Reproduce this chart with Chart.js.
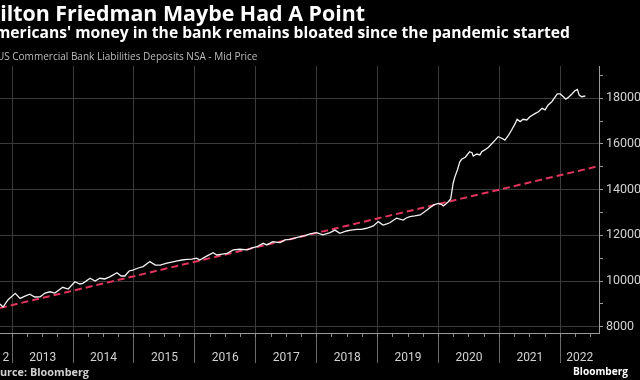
<!DOCTYPE html>
<html>
<head>
<meta charset="utf-8">
<script src="https://cdn.jsdelivr.net/npm/chart.js@4"></script>
<style>
html,body{margin:0;padding:0;background:#000;overflow:hidden;width:640px;height:380px}
#wrap{position:relative;width:640px;height:380px;overflow:hidden;background:#000}
canvas{position:absolute;left:0;top:0}
.hdr{position:absolute;left:0;top:0;white-space:nowrap;line-height:1;font-family:'Open Sans',sans-serif}
.bl{display:inline-block;width:0;height:0;vertical-align:baseline}
</style>
</head>
<body>
<div id="wrap">
<canvas id="c" width="640" height="380"></canvas>
<div class="hdr" id="h1" style="font-weight:700;color:#ffffff"><span class="cut">M</span>ilton Friedman Maybe Had A Point<i class="bl"></i></div>
<div class="hdr" id="h2" style="font-weight:700;color:#ffffff"><span class="cut">Am</span>ericans' money in the bank remains bloated since the pandemic started<i class="bl"></i></div>
<div class="hdr" id="h3" style="font-weight:400;color:#bdbdbd"><span class="cut">U</span>S Commercial Bank Liabilities Deposits NSA - Mid Price<i class="bl"></i></div>
<div class="hdr" id="src" style="font-weight:700;color:#d0d0d0"><span class="cut">So</span>urce: Bloomberg<i class="bl"></i></div>
<div class="hdr" id="logo" style="font-weight:700;color:#ffffff">Bloomberg<i class="bl"></i></div>
</div>
<script>
// ---- data ----
const yearLabels = ['2012','2013','2014','2015','2016','2017','2018','2019','2020','2021','2022'];
const yearStarts = [2013,2014,2015,2016,2017,2018,2019,2020,2021,2022];
const yTickValues = [8000,9000,10000,11000,12000,13000,14000,15000,16000,17000,18000,19000];

const dateX = [
  2012.80,2012.85,2012.93,2013.05,2013.13,2013.21,2013.29,2013.37,2013.46,2013.54,
  2013.62,2013.70,2013.83,2013.92,2014.03,2014.11,2014.16,2014.28,2014.36,2014.44,
  2014.52,2014.61,2014.72,2014.79,2014.85,2014.92,2014.98,2015.07,2015.15,2015.26,
  2015.35,2015.43,2015.54,2015.62,2015.71,2015.79,2015.87,2015.95,2016.03,2016.08,
  2016.20,2016.30,2016.36,2016.45,2016.53,2016.63,2016.74,2016.86,2016.94,2017.02,
  2017.12,2017.18,2017.28,2017.40,2017.48,2017.56,2017.64,2017.73,2017.81,2017.89,
  2018.00,2018.10,2018.22,2018.30,2018.38,2018.49,2018.56,2018.66,2018.73,2018.82,
  2018.93,2019.01,2019.09,2019.15,2019.20,2019.31,2019.42,2019.47,2019.53,2019.61,
  2019.70,2019.81,2019.92,2020.00,2020.04,2020.08,2020.12,2020.16,2020.20,2020.24,
  2020.27,2020.31,2020.35,2020.38,2020.44,2020.51,2020.55,2020.57,2020.63,2020.68,
  2020.71,2020.76,2020.82,2020.87,2020.93,2020.98,2021.04,2021.09,2021.15,2021.20,
  2021.26,2021.29,2021.34,2021.39,2021.45,2021.50,2021.59,2021.64,2021.70,2021.75,
  2021.80,2021.86,2021.91,2021.95,2022.00,2022.05,2022.09,2022.13,2022.19,2022.24,
  2022.28,2022.31,2022.35,2022.41
];
const deposits = [
  8990,8860,9170,9460,9240,9340,9420,9300,9310,9475,
  9530,9475,9725,9650,9970,9870,9900,10120,10000,10120,
  10090,10190,10360,10220,10220,10440,10480,10570,10630,10850,
  10700,10700,10780,10830,10880,10920,10950,10960,11000,10920,
  11100,11240,11140,11180,11210,11360,11390,11360,11450,11500,
  11650,11580,11720,11680,11800,11820,11880,11940,11990,12060,
  12120,12020,12120,12230,12090,12190,12230,12260,12260,12310,
  12410,12600,12450,12500,12550,12750,12670,12760,12820,12850,
  12890,13110,13330,13400,13370,13290,13370,13470,13590,14280,
  14570,14860,15220,15330,15420,15660,15620,15470,15560,15520,
  15660,15740,15860,16000,16170,16320,16250,16170,16390,16610,
  16900,17080,16980,17080,17050,17190,17340,17410,17560,17490,
  17710,17850,18040,18190,18190,18070,17960,18040,18190,18330,
  18390,18140,18070,18100
];
const trendX = [2012.80, 2022.635];
const trendY = [8820, 15036];

// ---- view range ----
const xMin = 2012.80, xMax = 2022.635, yMin = 7724, yMax = 19414;
const origStart = 2012.46;

const labelPos = yearLabels.map(l => {
  const y0 = Number(l);
  const a = Math.max(y0, origStart), b = Math.min(y0 + 1, xMax);
  return (a + b) / 2;
});
const quarterTicks = [];
for (let q = Math.ceil(xMin * 4) / 4; q <= xMax; q += 0.25) quarterTicks.push(q);

const nB = yearStarts.length;
const GRID = '#3b3b3b';

new Chart(document.getElementById('c'), {
  type: 'line',
  data: {
    datasets: [
      { label: 'Deposits', data: dateX.map((x, i) => ({ x: x, y: deposits[i] })),
        borderColor: '#f2f2f2', borderWidth: 1.3, pointRadius: 0, tension: 0, order: 0 },
      { label: 'Trend', data: trendX.map((x, i) => ({ x: x, y: trendY[i] })),
        borderColor: '#e2345d', borderWidth: 2, borderDash: [7, 4], pointRadius: 0, tension: 0, order: 1 }
    ]
  },
  options: {
    responsive: false, animation: false, devicePixelRatio: 1, events: [],
    layout: { padding: { top: 66, left: 0, right: 0, bottom: 0 } },
    plugins: { legend: { display: false }, title: { display: false }, tooltip: { enabled: false } },
    scales: {
      x: {
        type: 'linear', position: 'bottom', min: xMin, max: xMax,
        afterBuildTicks: s => { s.ticks = yearStarts.map(v => ({ value: v })).concat(labelPos.map(v => ({ value: v }))); },
        ticks: {
          autoSkip: false, maxRotation: 0, minRotation: 0, color: '#d2d2d2',
          font: { family: 'Roboto', size: 12 }, padding: -12,
          callback: (v, i) => i < nB ? '' : yearLabels[i - nB]
        },
        grid: {
          color: c => c.index < nB ? GRID : 'rgba(0,0,0,0)',
          tickColor: c => c.index < nB ? '#6a6a6a' : 'rgba(0,0,0,0)',
          tickLength: 30, lineWidth: 1
        },
        border: { color: '#9a9a9a', width: 1 },
        afterFit: s => { s.height = 47; s.paddingLeft = 0; s.paddingRight = 0; }
      },
      xq: {
        type: 'linear', axis: 'x', position: { y: yMin }, min: xMin, max: xMax,
        afterBuildTicks: s => { s.ticks = quarterTicks.map(v => ({ value: v })); },
        ticks: { display: false },
        grid: { drawOnChartArea: false, tickLength: 4, tickColor: '#8a8a8a' },
        border: { display: false },
        afterFit: s => { s.paddingLeft = 0; s.paddingRight = 0; }
      },
      y: {
        type: 'linear', position: 'right', min: yMin, max: yMax,
        afterBuildTicks: s => { s.ticks = yTickValues.map(v => ({ value: v })); },
        ticks: {
          autoSkip: false, color: '#d2d2d2', font: { family: 'Roboto', size: 12.5 }, padding: 3,
          callback: v => (v % 2000 === 0 ? String(v) : '')
        },
        grid: {
          color: c => (c.tick && c.tick.value % 2000 === 0) ? GRID : 'rgba(0,0,0,0)',
          tickColor: '#9a9a9a', tickLength: 4
        },
        border: { color: '#9a9a9a', width: 1 },
        afterFit: s => { s.width = 41; s.paddingTop = 0; s.paddingBottom = 0; }
      }
    }
  }
});

// ---- header / footer text placement ----
function place(id, leftVis, rightEdge, baseline, cutFrac, size) {
  const el = document.getElementById(id);
  const cut = el.querySelector('.cut');
  const target = rightEdge - leftVis;
  for (let k = 0; k < 3; k++) {
    el.style.fontSize = size + 'px';
    const total = el.getBoundingClientRect().width;
    const cw = cut ? cut.getBoundingClientRect().width * cutFrac : 0;
    size = size * target / (total - cw);
  }
  el.style.fontSize = size + 'px';
  const total = el.getBoundingClientRect().width;
  el.style.left = (rightEdge - total) + 'px';
  const bl = el.querySelector('.bl');
  el.style.top = (baseline - bl.offsetTop) + 'px';
}
place('h1', 0, 365, 21, 1, 19);
place('h2', 0, 570, 38, 0.62, 14);
place('h3', 0, 257.5, 60, 0.4, 11);
place('src', 0, 89, 376, 1, 11);
place('logo', 573, 628, 375, 0, 13);
</script>
</body>
</html>
